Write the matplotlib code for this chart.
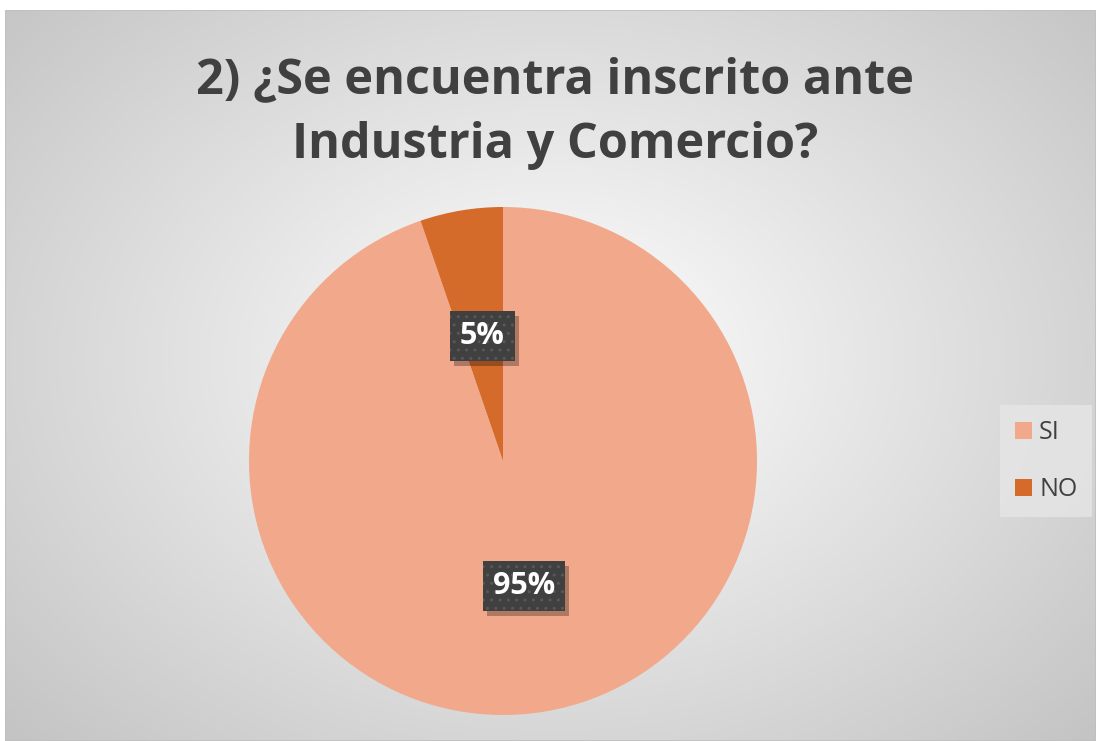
import numpy as np
import matplotlib
matplotlib.use("Agg")
import matplotlib.pyplot as plt
from matplotlib.patches import Patch, Rectangle

categories = ["SI", "NO"]
values = [18, 1]
colors = ["#F2A88A", "#D46B2A"]
title_lines = ["2) ¿Se encuentra inscrito ante", "Industria y Comercio?"]

W, H = 1096, 741
fig = plt.figure(figsize=(W / 100, H / 100), dpi=100)
fig.patch.set_facecolor("white")

# background chart area with radial gradient
bx0, by0, bx1, by1 = 5, 10, 1096, 741
bg = fig.add_axes([bx0 / W, 1 - by1 / H, (bx1 - bx0) / W, (by1 - by0) / H])
yy, xx = np.mgrid[0:200, 0:300]
cx, cy = 150, 95
d = np.sqrt(((xx - cx) / 150.0) ** 2 + ((yy - cy) / 110.0) ** 2) / np.sqrt(2)
v = 1.0 - 0.24 * np.clip(d, 0, 1) ** 1.0
img = np.dstack([v, v, v])
bg.imshow(img, aspect="auto", extent=[0, 1, 0, 1], interpolation="bilinear")
bg.set_axis_off()
bg.add_patch(Rectangle((0, 0), 1, 1, transform=bg.transAxes, fill=False,
                       edgecolor="#bfbfbf", linewidth=1.2))

# pie
pcx, pcy, R = 503, 461, 254
ax = fig.add_axes([(pcx - R) / W, (H - pcy - R) / H, 2 * R / W, 2 * R / H])
wedges, texts, autotexts = ax.pie(
    values, colors=colors, startangle=90, counterclock=False, radius=1,
    autopct="%.0f%%", pctdistance=0.5,
    wedgeprops=dict(linewidth=0),
    textprops=dict(color="white", fontsize=22, fontweight="bold", family="Open Sans"),
)
ax.set_xlim(-1, 1)
ax.set_ylim(-1, 1)
ax.set_axis_off()

for t in autotexts:
    t.set_zorder(3)
    t.set_bbox(dict(boxstyle="square,pad=0.33", facecolor="#404040", edgecolor="#585858",
                    hatch="..", linewidth=0))

# title
fig.text(555 / W, 1 - 93 / H, title_lines[0], ha="center", va="baseline",
         fontsize=35, fontweight="bold", color="#404040", family="Open Sans")
fig.text(555 / W, 1 - 158 / H, title_lines[1], ha="center", va="baseline",
         fontsize=35, fontweight="bold", color="#404040", family="Open Sans")

# legend
handles = [Patch(facecolor=c, edgecolor="none") for c in colors]
leg = fig.legend(handles, categories, loc="center left",
                 bbox_to_anchor=(1000 / W, 1 - 461 / H), frameon=True,
                 handlelength=0.68, handleheight=0.68,
                 handletextpad=0.28, labelspacing=1.28, borderpad=0.6, borderaxespad=0,
                 labelcolor="#404040", prop=dict(family="Open Sans", size=18))
leg.get_frame().set_facecolor("#e6e6e6")
leg.get_frame().set_edgecolor("none")
leg.get_frame().set_boxstyle("square,pad=0")

# drop shadows behind the label boxes
fig.canvas.draw()
for t in autotexts:
    bb = t.get_bbox_patch().get_window_extent()
    ax.add_patch(Rectangle((bb.x0 + 4, bb.y0 - 5), bb.width, bb.height,
                           transform=None, facecolor="black", alpha=0.28,
                           edgecolor="none", zorder=2))

fig.savefig("out.png", dpi=100)
